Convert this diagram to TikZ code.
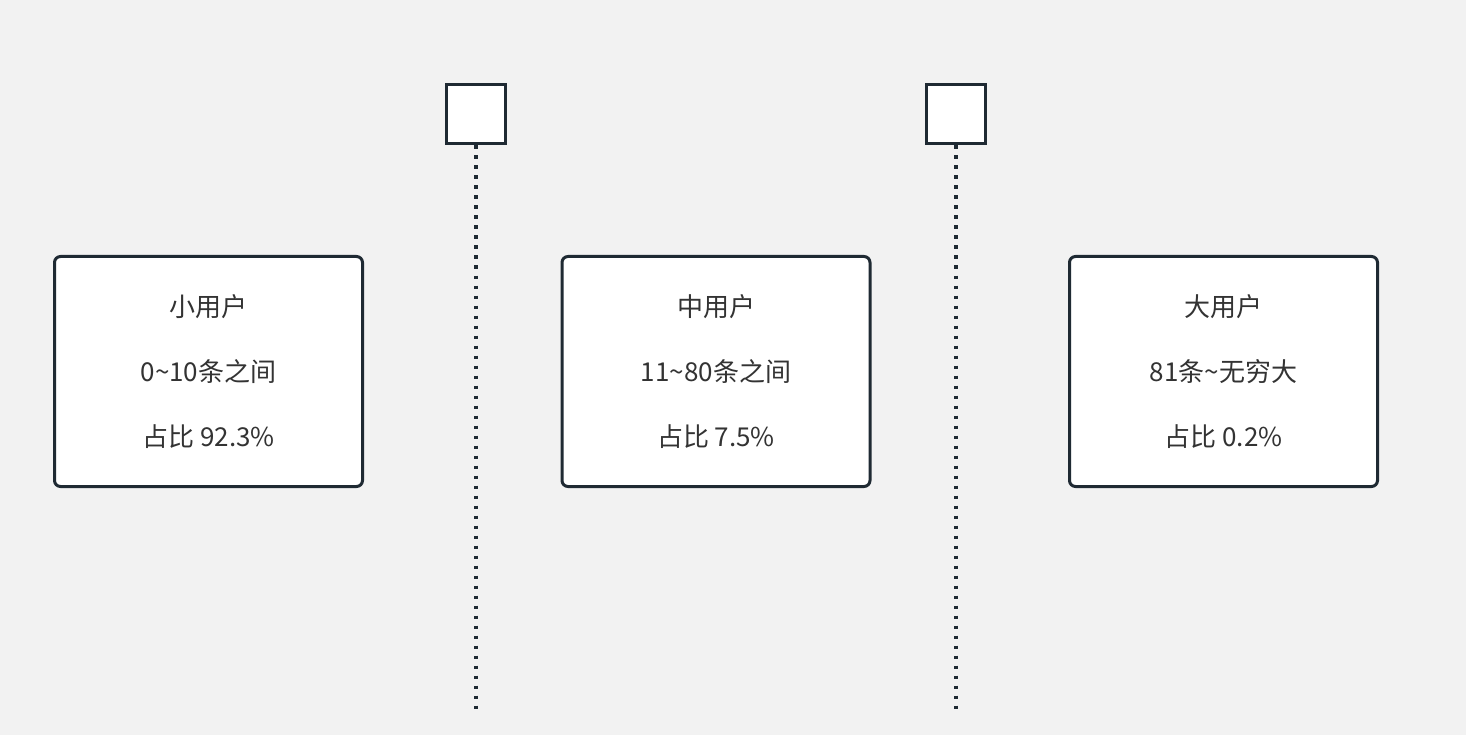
\documentclass[tikz,border=0pt]{standalone}
\usepackage{fontspec}
\setmainfont{Noto Sans CJK SC}
\usetikzlibrary{positioning}

\definecolor{bgcol}{HTML}{F2F2F2}
\definecolor{edgecol}{HTML}{1F2A33}
\definecolor{txtcol}{HTML}{333333}

\tikzset{
  group/.style={draw=edgecol,line width=3pt,fill=white,rounded corners=6pt,
    minimum width=308pt,minimum height=230pt,align=center,text=txtcol,
    font=\fontsize{26}{65}\selectfont},
  marker/.style={draw=edgecol,line width=3pt,fill=white,minimum size=59pt,inner sep=0pt},
  divider/.style={draw=edgecol,line width=3.5pt,dash pattern=on 3.5pt off 6.5pt}
}

\begin{document}
\begin{tikzpicture}[x=1pt,y=-1pt,node distance=196.5pt]

\fill[bgcol] (0,0) rectangle (1466,735);
\useasboundingbox (0,0) rectangle (1466,735);

\node[group]   (small) at (208.5,371.5)  {小用户\\0\textasciitilde{}10条之间\\占比 92.3\%};
\node[group]   (mid)[right=of small]     {中用户\\11\textasciitilde{}80条之间\\占比 7.5\%};
\node[group]   (big)[right=of mid]       {大用户\\81条\textasciitilde{}无穷大\\占比 0.2\%};

\node[marker]  (cut1) at (476,114.5) {};
\node[marker]  (cut2) at (956,114.5) {};
\coordinate    (end1) at (476,709);
\coordinate    (end2) at (956,709);

\draw[divider] (cut1.south) -- (end1);
\draw[divider] (cut2.south) -- (end2);

\end{tikzpicture}
\end{document}
